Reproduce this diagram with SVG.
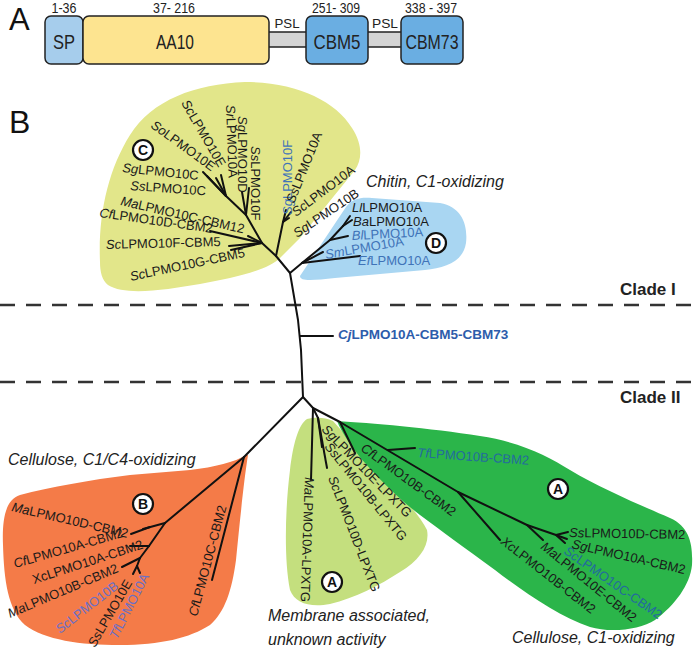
<svg xmlns="http://www.w3.org/2000/svg" width="693" height="653" viewBox="0 0 693 653">
<style>
text { font-family: "Liberation Sans", Arial, sans-serif; }
.lbl { font-size: 13px; fill: #1a1a1a; }
.i { font-style: italic; }
.bl { fill: #3f73b8; }
.bl2 { fill: #236b9e; }
.pu { fill: #6b6fc6; }
.br { fill: none; stroke: #111; stroke-width: 2; stroke-linecap: round; stroke-linejoin: round; }
.circ { fill: #fff; stroke: #111; stroke-width: 2.2; }
.cl { font-size: 14px; font-weight: bold; text-anchor: middle; fill: #111; }
.note { font-size: 16px; font-style: italic; fill: #222; }
.clade { font-size: 17px; font-weight: bold; fill: #222; }
.box { stroke: #222; stroke-width: 1.5; }
.dom { font-size: 21px; fill: #222; text-anchor: middle; }
.num { font-size: 14px; fill: #222; text-anchor: middle; }
.dash { stroke: #333; stroke-width: 2.5; stroke-dasharray: 15 11; }
</style>

<!-- Panel A -->
<g id="panelA">
  <text x="9" y="30" font-size="31" fill="#111">A</text>
  <g id="psl1"><rect x="266" y="32" width="42" height="15" fill="#d4d4d4" class="box"/><text x="287" y="28" font-size="13" text-anchor="middle" fill="#222" textLength="25" lengthAdjust="spacingAndGlyphs">PSL</text></g>
  <g id="psl2"><rect x="366" y="32" width="38" height="15" fill="#d4d4d4" class="box"/><text x="385" y="28" font-size="13" text-anchor="middle" fill="#222" textLength="26" lengthAdjust="spacingAndGlyphs">PSL</text></g>
  <g id="sp"><rect x="45" y="16" width="38" height="48" rx="6" fill="#a6cdec" class="box"/><text x="64" y="49" class="dom" textLength="22" lengthAdjust="spacingAndGlyphs">SP</text><text x="64" y="13" class="num" textLength="25" lengthAdjust="spacingAndGlyphs">1-36</text></g>
  <g id="aa10"><rect x="83" y="16" width="186" height="48" rx="6" fill="#fde490" class="box"/><text x="175" y="49" class="dom" textLength="38" lengthAdjust="spacingAndGlyphs">AA10</text><text x="174" y="13" class="num" textLength="42" lengthAdjust="spacingAndGlyphs">37- 216</text></g>
  <g id="cbm5"><rect x="306" y="16" width="62" height="48" rx="6" fill="#6aaee2" class="box"/><text x="337" y="49" class="dom" textLength="47" lengthAdjust="spacingAndGlyphs">CBM5</text><text x="336" y="13" class="num" textLength="48" lengthAdjust="spacingAndGlyphs">251- 309</text></g>
  <g id="cbm73"><rect x="401" y="16" width="62" height="48" rx="6" fill="#6aaee2" class="box"/><text x="432" y="49" class="dom" textLength="53" lengthAdjust="spacingAndGlyphs">CBM73</text><text x="431" y="13" class="num" textLength="52" lengthAdjust="spacingAndGlyphs">338 - 397</text></g>
</g>

<text x="9" y="133" font-size="32" fill="#111">B</text>

<!-- Blobs -->
<g id="blobs">
  <path id="blobC" d="M100,262 C98,215 108,170 130,135 C152,100 195,84 245,82 C295,82 335,100 352,128 C363,145 362,160 355,170 L300,238 L280,258 C268,270 235,278 200,284 C165,290 125,296 108,285 C102,280 100,272 100,262 Z" fill="#e2e68a"/>
  <path id="blobD" d="M300,276 L346,207 C352,199 360,197 372,198 L440,203 C462,207 468,225 466,243 C463,262 445,268 425,270 L335,278 C315,280 300,282 300,276 Z" fill="#a9d6f2"/>
  <path id="blobB" d="M246,455 C235,462 215,467 190,470 L130,475 C90,480 50,487 20,495 C5,500 2,520 3,545 C4,580 8,610 25,625 C45,640 80,645 120,645 C160,645 190,638 210,625 C225,612 232,590 236,560 C240,520 244,480 248,455 Z" fill="#f47b48"/>
  <path id="blobA2" d="M307,419 C315,417 325,417 333,421 C350,440 370,462 385,478 C400,495 420,515 427,530 C430,545 420,560 400,572 C380,585 355,598 330,604 C310,608 295,603 290,590 C284,560 285,510 290,470 C293,445 298,425 307,419 Z" fill="#c4df7e"/>
  <path id="blobA1" d="M337,421 C370,423 430,428 480,436 C520,442 548,456 570,470 C600,488 640,505 670,518 C690,527 693,545 692,565 C690,585 675,605 655,620 C640,630 610,633 590,627 C560,617 525,593 495,570 C465,548 440,530 420,515 C400,500 380,480 365,463 C352,448 342,433 337,421 Z" fill="#2bb54a"/>
</g>

<!-- Dashed clade separators -->
<g id="separators">
  <line x1="0" y1="305" x2="693" y2="305" class="dash"/>
  <line x1="0" y1="382" x2="693" y2="382" class="dash"/>
</g>

<!-- Connectors (tree branches) -->
<g id="connectors" class="br">
  <!-- trunk -->
  <polyline points="290,273 298,320 301,350 303,397"/>
  <line x1="300" y1="336" x2="333" y2="336"/>
  <!-- clade C -->
  <polyline points="290,273 276,256 262,243"/>
  <line x1="262" y1="243" x2="210" y2="231"/>
  <line x1="262" y1="243" x2="229" y2="246"/>
  <line x1="262" y1="243" x2="231" y2="250"/>
  <line x1="262" y1="243" x2="248" y2="236"/>
  <line x1="262" y1="243" x2="246" y2="215"/>
  <line x1="246" y1="215" x2="249" y2="188"/>
  <line x1="246" y1="215" x2="242" y2="192"/>
  <line x1="246" y1="215" x2="226" y2="196"/>
  <line x1="226" y1="196" x2="207" y2="176"/>
  <line x1="226" y1="196" x2="203" y2="172"/>
  <line x1="226" y1="196" x2="221" y2="175"/>
  <line x1="226" y1="196" x2="216" y2="178"/>
  <line x1="276" y1="256" x2="283" y2="222"/>
  <line x1="283" y1="222" x2="286" y2="210"/>
  <line x1="283" y1="222" x2="291" y2="212"/>
  <line x1="283" y1="222" x2="289" y2="218"/>
  <!-- clade D -->
  <polyline points="290,273 302,263 360,256"/>
  <line x1="302" y1="263" x2="323" y2="252"/>
  <line x1="302" y1="263" x2="330" y2="240"/>
  <line x1="330" y1="240" x2="348" y2="236"/>
  <line x1="330" y1="240" x2="343" y2="226"/>
  <line x1="343" y1="226" x2="352" y2="220"/>
  <line x1="343" y1="226" x2="350" y2="216"/>
  <!-- clade B -->
  <line x1="303" y1="397" x2="244" y2="457"/>
  <line x1="244" y1="457" x2="212" y2="580"/>
  <line x1="244" y1="457" x2="165" y2="523"/>
  <line x1="165" y1="523" x2="143" y2="529"/>
  <line x1="150" y1="527" x2="131" y2="534"/>
  <line x1="165" y1="523" x2="149" y2="546"/>
  <line x1="149" y1="546" x2="130" y2="546"/>
  <line x1="149" y1="546" x2="140" y2="558"/>
  <line x1="140" y1="558" x2="122" y2="567"/>
  <line x1="140" y1="558" x2="137" y2="566"/>
  <line x1="137" y1="566" x2="133" y2="574"/>
  <line x1="137" y1="566" x2="140" y2="573"/>
  <!-- clade A (membrane) -->
  <line x1="303" y1="397" x2="313" y2="408"/>
  <line x1="313" y1="408" x2="311" y2="480"/>
  <line x1="313" y1="408" x2="318" y2="418"/>
  <line x1="318" y1="418" x2="327" y2="468"/>
  <line x1="318" y1="418" x2="322" y2="447"/>
  <!-- clade A (cellulose) -->
  <line x1="313" y1="408" x2="340" y2="422"/>
  <line x1="340" y1="422" x2="355" y2="453"/>
  <line x1="340" y1="422" x2="458" y2="492"/>
  <line x1="388" y1="450" x2="415" y2="448"/>
  <line x1="458" y1="492" x2="500" y2="540"/>
  <line x1="458" y1="492" x2="527" y2="525"/>
  <line x1="527" y1="525" x2="543" y2="540"/>
  <line x1="527" y1="525" x2="556" y2="535"/>
  <line x1="556" y1="535" x2="568" y2="532"/>
  <line x1="556" y1="535" x2="567" y2="539"/>
  <line x1="556" y1="535" x2="565" y2="543"/>
</g>

<!-- Clade C labels -->
<g id="cladeC">
  <circle cx="143" cy="150" r="10" class="circ"/><text x="143" y="155" class="cl">C</text>
  <text class="lbl" transform="translate(122,172) rotate(6)"><tspan class="i">Sg</tspan>LPMO10C</text>
  <text class="lbl" transform="translate(130,190) rotate(4)"><tspan class="i">Ss</tspan>LPMO10C</text>
  <text class="lbl" transform="translate(120,205) rotate(13)"><tspan class="i">Ma</tspan>LPMO10C-CBM12</text>
  <text class="lbl" transform="translate(99,217) rotate(8)"><tspan class="i">Cf</tspan>LPMO10D-CBM2</text>
  <text class="lbl" transform="translate(106,249) rotate(-1.5)"><tspan class="i">Sc</tspan>LPMO10F-CBM5</text>
  <text class="lbl" transform="translate(131,281) rotate(-12)"><tspan class="i">Sc</tspan>LPMO10G-CBM5</text>
  <text class="lbl" transform="translate(150,127) rotate(36)"><tspan class="i">So</tspan>LPMO10E</text>
  <text class="lbl" transform="translate(181,103) rotate(60)"><tspan class="i">Sc</tspan>LPMO10E</text>
  <text class="lbl" transform="translate(226,105) rotate(88)"><tspan class="i">Sr</tspan>LPMO10A</text>
  <text class="lbl" transform="translate(238,116) rotate(90)"><tspan class="i">Sg</tspan>LPMO10D</text>
  <text class="lbl" transform="translate(251,146) rotate(90)"><tspan class="i">Ss</tspan>LPMO10F</text>
  <text class="lbl bl" transform="translate(292,215) rotate(-90)"><tspan class="i">Sg</tspan>LPMO10F</text>
  <text class="lbl" transform="translate(294,204) rotate(-68)"><tspan class="i">Ss</tspan>LPMO10A</text>
  <text class="lbl" transform="translate(296,217) rotate(-37)"><tspan class="i">Sc</tspan>LPMO10A</text>
  <text class="lbl" transform="translate(297,238) rotate(-34)"><tspan class="i">Sg</tspan>LPMO10B</text>
  <text x="366" y="187" class="note">Chitin, C1-oxidizing</text>
</g>

<!-- Clade D labels -->
<g id="cladeD">
  <circle cx="436" cy="243" r="10" class="circ"/><text x="436" y="248" class="cl">D</text>
  <text class="lbl" x="352" y="212"><tspan class="i">Ll</tspan>LPMO10A</text>
  <text class="lbl" x="353" y="226"><tspan class="i">Ba</tspan>LPMO10A</text>
  <text class="lbl bl" transform="translate(352,240) rotate(-3)"><tspan class="i">Bl</tspan>LPMO10A</text>
  <text class="lbl bl" transform="translate(326,259) rotate(-10)"><tspan class="i">Sm</tspan>LPMO10A</text>
  <text class="lbl bl" x="358" y="265"><tspan class="i">Ef</tspan>LPMO10A</text>
</g>

<g id="clade-labels">
  <text x="620" y="295" class="clade">Clade I</text>
  <text x="620" y="403" class="clade">Clade II</text>
</g>

<g id="cj">
  <text x="338" y="339" font-size="13.5" font-weight="bold" fill="#2d5cab"><tspan font-style="italic">Cj</tspan>LPMO10A-CBM5-CBM73</text>
</g>

<!-- Clade B labels -->
<g id="cladeB">
  <text x="8" y="465" class="note">Cellulose, C1/C4-oxidizing</text>
  <circle cx="143" cy="504" r="10" class="circ"/><text x="143" y="509" class="cl">B</text>
  <text class="lbl" transform="translate(11,511) rotate(13)"><tspan class="i">Ma</tspan>LPMO10D-CBM2</text>
  <text class="lbl" transform="translate(15,568) rotate(-16)"><tspan class="i">Cf</tspan>LPMO10A-CBM2</text>
  <text class="lbl" transform="translate(34,584) rotate(-18)">XcLPMO10A-CBM2</text>
  <text class="lbl" transform="translate(10,618) rotate(-23)"><tspan class="i">Ma</tspan>LPMO10B-CBM2</text>
  <text class="lbl pu" transform="translate(60,634) rotate(-38)"><tspan class="i">Sc</tspan>LPMO10B</text>
  <text class="lbl" transform="translate(95,648) rotate(-60)"><tspan class="i">Ss</tspan>LPMO10E</text>
  <text class="lbl pu" transform="translate(117,640) rotate(-63)"><tspan class="i">Tf</tspan>LPMO10A</text>
  <text class="lbl" transform="translate(197,617) rotate(-75)"><tspan class="i">Cf</tspan>LPMO10C-CBM2</text>
</g>

<!-- Clade A membrane labels -->
<g id="cladeA2">
  <circle cx="332" cy="582" r="10" class="circ"/><text x="332" y="587" class="cl">A</text>
  <text class="lbl" transform="translate(321,430) rotate(46)"><tspan class="i">Sg</tspan>LPMO10E-LPXTG</text>
  <text class="lbl" transform="translate(324,447) rotate(51)"><tspan class="i">Ss</tspan>LPMO10B-LPXTG</text>
  <text class="lbl" transform="translate(328,478) rotate(69)"><tspan class="i">Sc</tspan>LPMO10D-LPXTG</text>
  <text class="lbl" transform="translate(305,477) rotate(92)"><tspan class="i">Ma</tspan>LPMO10A-LPXTG</text>
  <text x="268" y="621" class="note">Membrane associated,</text>
  <text x="268" y="645" class="note">unknown activity</text>
</g>

<!-- Clade A cellulose labels -->
<g id="cladeA1">
  <circle cx="558" cy="489" r="10" class="circ"/><text x="558" y="494" class="cl">A</text>
  <text class="lbl bl2" transform="translate(417,457) rotate(4)"><tspan class="i">Tf</tspan>LPMO10B-CBM2</text>
  <text class="lbl" transform="translate(360,450) rotate(36)"><tspan class="i">Cf</tspan>LPMO10B-CBM2</text>
  <text class="lbl" transform="translate(569,537) rotate(1)"><tspan class="i">Ss</tspan>LPMO10D-CBM2</text>
  <text class="lbl" transform="translate(571,548) rotate(13)"><tspan class="i">Sg</tspan>LPMO10A-CBM2</text>
  <text class="lbl bl2" transform="translate(563,553) rotate(35)"><tspan class="i">Sc</tspan>LPMO10C-CBM2</text>
  <text class="lbl" transform="translate(540,548) rotate(39)"><tspan class="i">Ma</tspan>LPMO10E-CBM2</text>
  <text class="lbl" transform="translate(500,543) rotate(38)"><tspan class="i">Xc</tspan>LPMO10B-CBM2</text>
  <text x="512" y="643" class="note">Cellulose, C1-oxidizing</text>
</g>
</svg>
